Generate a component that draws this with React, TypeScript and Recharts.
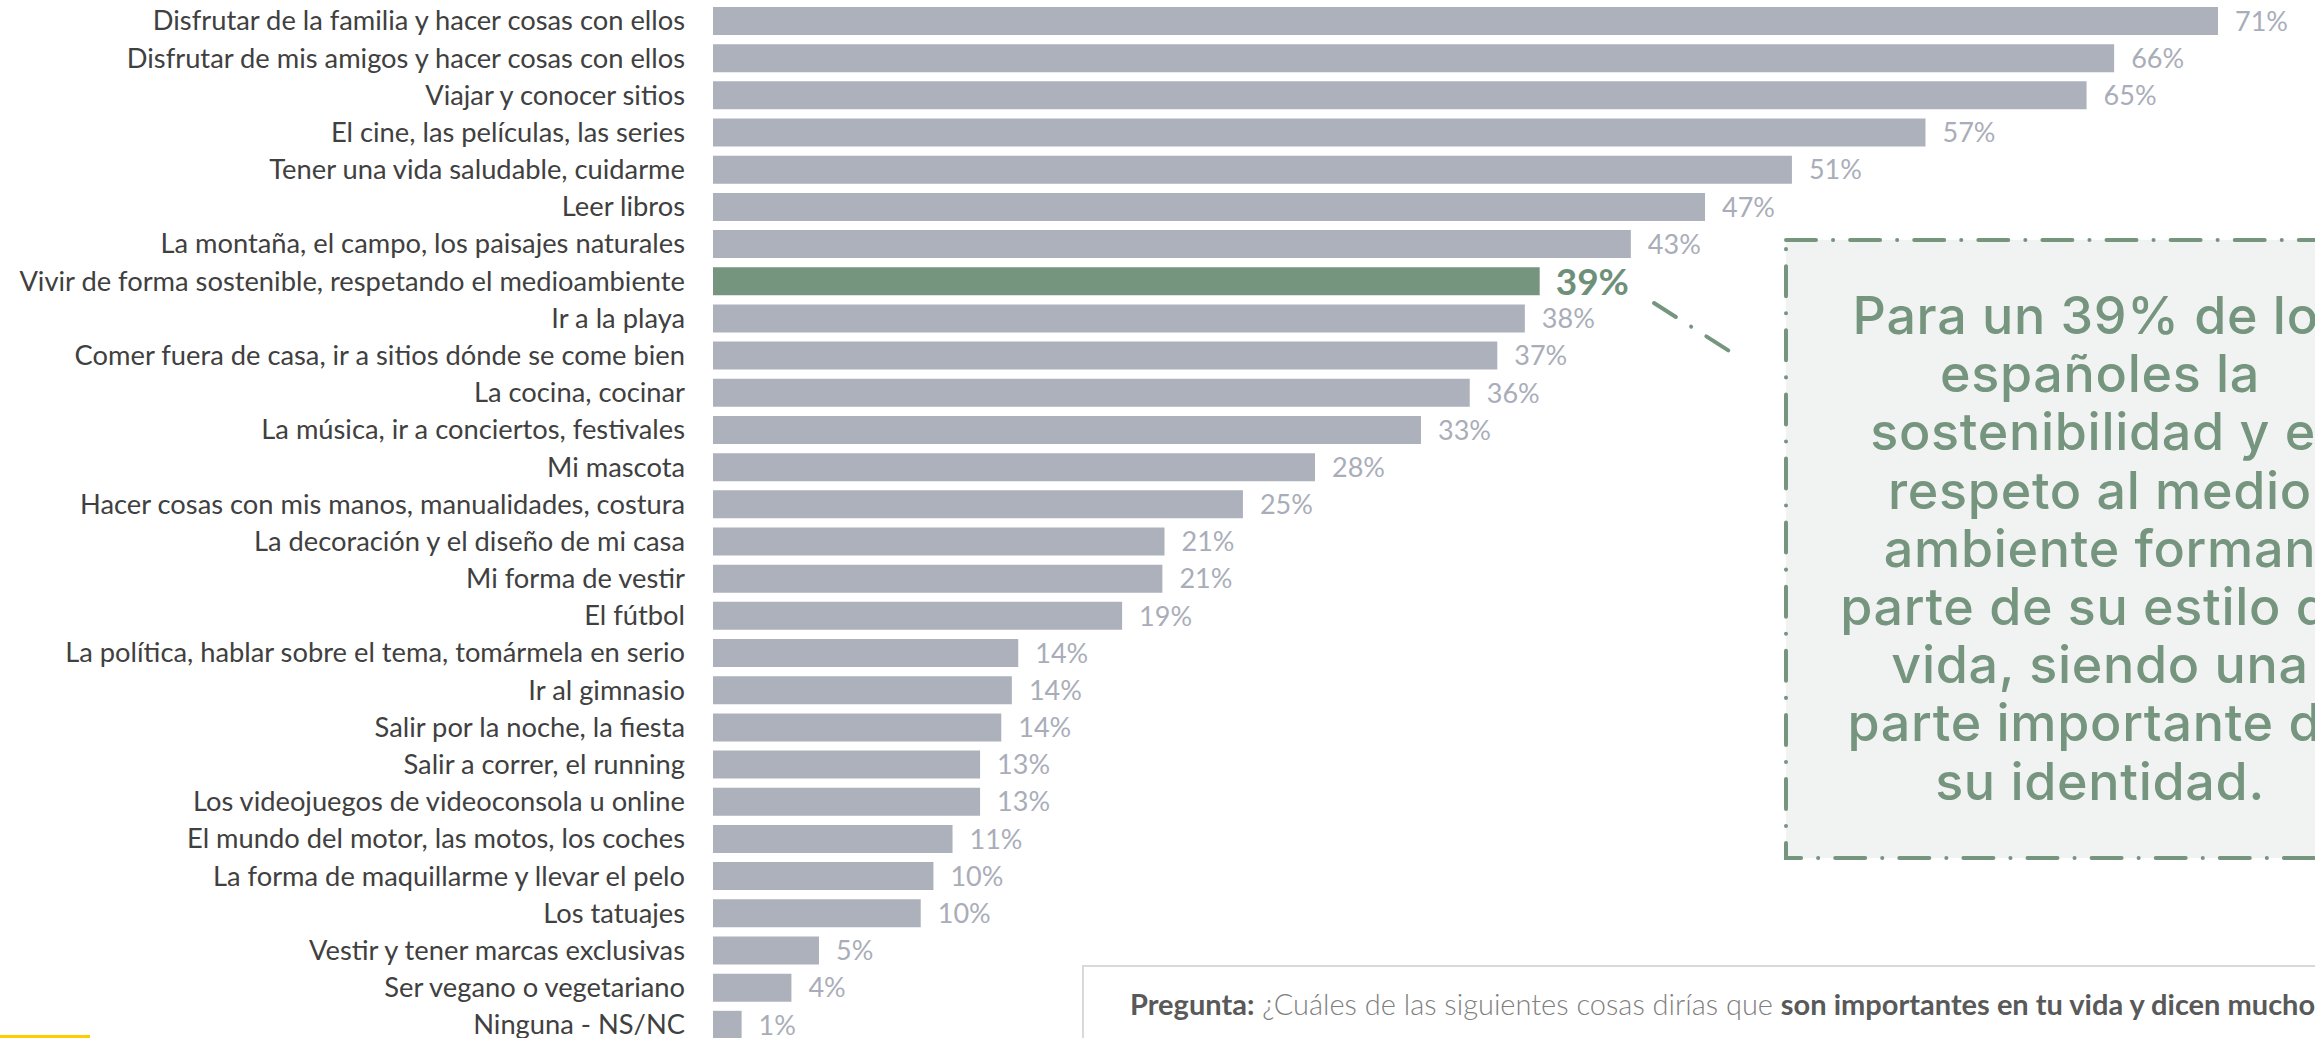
import { Bar, BarChart, Cell, LabelList, XAxis, YAxis } from "recharts";

const CATEGORIES = [
  "Disfrutar de la familia y hacer cosas con ellos",
  "Disfrutar de mis amigos y hacer cosas con ellos",
  "Viajar y conocer sitios",
  "El cine, las películas, las series",
  "Tener una vida saludable, cuidarme",
  "Leer libros",
  "La montaña, el campo, los paisajes naturales",
  "Vivir de forma sostenible, respetando el medioambiente",
  "Ir a la playa",
  "Comer fuera de casa, ir a sitios dónde se come bien",
  "La cocina, cocinar",
  "La música, ir a conciertos, festivales",
  "Mi mascota",
  "Hacer cosas con mis manos, manualidades, costura",
  "La decoración y el diseño de mi casa",
  "Mi forma de vestir",
  "El fútbol",
  "La política, hablar sobre el tema, tomármela en serio",
  "Ir al gimnasio",
  "Salir por la noche, la fiesta",
  "Salir a correr, el running",
  "Los videojuegos de videoconsola u online",
  "El mundo del motor, las motos, los coches",
  "La forma de maquillarme y llevar el pelo",
  "Los tatuajes",
  "Vestir y tener marcas exclusivas",
  "Ser vegano o vegetariano",
  "Ninguna - NS/NC",
];

// % que lo considera importante (barras, etiqueta redondeada)
const VALUES = [
  71.0, 66.1, 64.8, 57.2, 50.9, 46.8, 43.3, 39.0, 38.3, 37.0, 35.7, 33.4, 28.4, 25.0,
  21.3, 21.2, 19.3, 14.4, 14.1, 13.6, 12.6, 12.6, 11.3, 10.4, 9.8, 5.0, 3.7, 1.35,
];

const HIGHLIGHT = "Vivir de forma sostenible, respetando el medioambiente";

const CALLOUT_LINES = [
  "Para un 39% de los",
  "españoles la",
  "sostenibilidad y el",
  "respeto al medio",
  "ambiente forman",
  "parte de su estilo de",
  "vida, siendo una",
  "parte importante de",
  "su identidad.",
];

const GREY = "#adb1bc";
const GREEN = "#76957f";
const LABEL_GREY = "#a9adb9";

const data = CATEGORIES.map((name, i) => ({ name, value: VALUES[i] }));

function CategoryTick(props: any) {
  const { x, y, payload } = props;
  return (
    <text
      x={x}
      y={y}
      dy="0.36em"
      textAnchor="end"
      fontFamily="Lato"
      fontSize={27.3}
      fill="#404040"
    >
      {payload.value}
    </text>
  );
}

function ValueLabel(props: any) {
  const { x, y, width, height, value } = props;
  const i = CATEGORIES.indexOf(value);
  const hi = value === HIGHLIGHT;
  return (
    <text
      x={x + width + (hi ? 16 : 17)}
      y={y + height / 2}
      dy="0.36em"
      fontFamily="Lato"
      fontSize={hi ? 37 : 27}
      fontWeight={hi ? 700 : 400}
      fill={hi ? "#6e9078" : LABEL_GREY}
    >
      {Math.round(VALUES[i])}%
    </text>
  );
}

export default function App() {
  return (
    <div
      style={{
        position: "absolute",
        left: 0,
        top: 0,
        width: 2315,
        height: 1038,
        overflow: "hidden",
        background: "#fff",
      }}
    >
      <BarChart
        width={2315}
        height={1043}
        data={data}
        layout="vertical"
        margin={{ top: 2, right: 97, bottom: 0, left: 0 }}
      >
        <XAxis type="number" domain={[0, 71]} hide />
        <YAxis
          type="category"
          dataKey="name"
          width={713}
          axisLine={false}
          tickLine={false}
          tickSize={0}
          tickMargin={28}
          interval={0}
          tick={<CategoryTick />}
        />
        <Bar dataKey="value" barSize={28} isAnimationActive={false}>
          {data.map((d) => (
            <Cell key={d.name} fill={d.name === HIGHLIGHT ? GREEN : GREY} />
          ))}
          <LabelList dataKey="name" content={(p: any) => <ValueLabel {...p} />} />
        </Bar>
      </BarChart>

      <svg
        width={2315}
        height={1038}
        style={{ position: "absolute", left: 0, top: 0, pointerEvents: "none" }}
      >
        {/* conector */}
        <line
          x1={1654}
          y1={303}
          x2={1737}
          y2={356}
          stroke={GREEN}
          strokeWidth={4}
          strokeLinecap="round"
          strokeDasharray="26 18 0.1 18"
        />
        {/* caja destacada */}
        <rect
          x={1786}
          y={240}
          width={628}
          height={618}
          fill="#f1f3f2"
          stroke={GREEN}
          strokeWidth={4}
          strokeLinecap="round"
          strokeDasharray="30 17 0.1 17"
        />
        {CALLOUT_LINES.map((t, i) => (
          <text
            key={t}
            x={2100}
            y={334 + i * 58.2}
            textAnchor="middle"
            fontFamily="Inter"
            fontWeight={500}
            fontSize={52}
            letterSpacing={0.7}
            fill="#76957f"
          >
            {t}
          </text>
        ))}
        {/* pregunta */}
        <rect x={1083} y={966} width={1400} height={120} fill="#fff" stroke="#d9d9d9" strokeWidth={2} />
        <text x={1130} y={1015} fontFamily="Lato" fontSize={29} fill="#595959">
          <tspan fontWeight={700}>Pregunta:</tspan>
          <tspan fill="#7f7f7f" fontWeight={300}> ¿Cuáles de las siguientes cosas dirías que </tspan>
          <tspan fontWeight={700}>son importantes en tu vida y dicen mucho de ti?</tspan>
        </text>
        <rect x={0} y={1035} width={90} height={3} fill="#ffcc00" />
      </svg>
    </div>
  );
}
